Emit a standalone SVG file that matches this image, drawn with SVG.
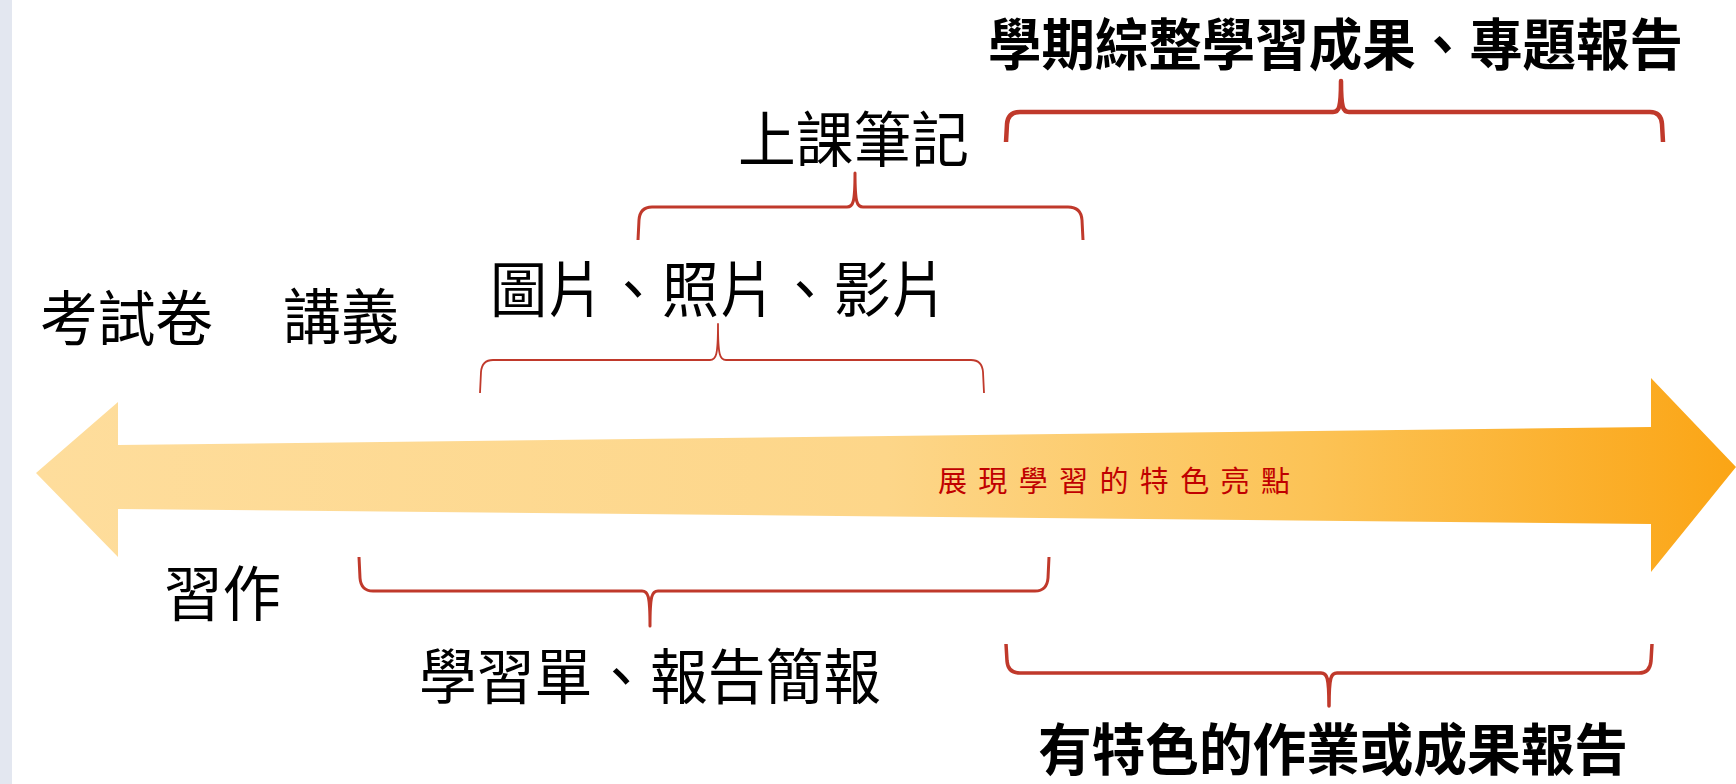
<svg xmlns="http://www.w3.org/2000/svg" width="1736" height="784" viewBox="0 0 1736 784">
  <defs>
    <linearGradient id="arrowGrad" x1="36" y1="0" x2="1736" y2="0" gradientUnits="userSpaceOnUse">
      <stop offset="0" stop-color="#fedd9c"/>
      <stop offset="0.5" stop-color="#fdd689"/>
      <stop offset="0.75" stop-color="#fcc356"/>
      <stop offset="1" stop-color="#fba515"/>
    </linearGradient>
  </defs>
  <style>
    .lbl { font-family: "Noto Sans CJK TC", "Noto Sans CJK SC", sans-serif; font-size: 60px; fill: #000000; }
    .bold { font-family: "Noto Sans CJK TC", "Noto Sans CJK SC", sans-serif; font-size: 56px; font-weight: 700; fill: #000000; }
    .mid { font-family: "Noto Sans CJK TC", "Noto Sans CJK SC", sans-serif; font-size: 29px; fill: #c00000; }
    .brace { fill: none; stroke: #c0392b; stroke-linecap: butt; stroke-linejoin: round; }
  </style>
  <rect x="0" y="0" width="1736" height="784" fill="#ffffff"/>
  <rect x="0" y="0" width="12" height="784" fill="#e3e7f0"/>

  <g id="arrow">
    <polygon points="36,473 118,402 118,445 1651,427 1651,378 1736,467 1651,572 1651,524 118,509 118,557" fill="url(#arrowGrad)"/>
    <text class="mid" x="938" y="492" textLength="352" lengthAdjust="spacing">展現學習的特色亮點</text>
  </g>

  <g id="connectors">
    <path class="brace" stroke-width="4.5" d="M1006,142 L1007,124 Q1008,112 1020,112 L1333,112 C1339,112 1341,108 1341,81 C1341,108 1343,112 1349,112 L1650,112 Q1661,112 1662,124 L1663,142"/>
    <path class="brace" stroke-width="3" d="M638,240 L639,220 Q640,207 652,207 L847,207 C853,207 855,203 855,173 C855,203 857,207 863,207 L1068,207 Q1081,207 1082,220 L1083,240"/>
    <path class="brace" stroke-width="1.8" d="M480,393 L481,372 Q482,360 493,360 L710,360 C716,360 718,356 718,324 C718,356 720,360 726,360 L971,360 Q982,360 983,372 L984,393"/>
    <path class="brace" stroke-width="3" d="M359,557 L360,578 Q361,591 373,591 L642,591 C648,591 650,595 650,626 C650,595 652,591 658,591 L1035,591 Q1047,591 1048,578 L1049,557"/>
    <path class="brace" stroke-width="3.5" d="M1006,644 L1007,661 Q1008,673 1020,673 L1321,673 C1327,673 1329,677 1329,706 C1329,677 1331,673 1337,673 L1639,673 Q1650,673 1651,661 L1652,644"/>
  </g>

  <g id="node-exam"><text class="lbl" x="40" y="341" textLength="173" lengthAdjust="spacingAndGlyphs">考試卷</text></g>
  <g id="node-handout"><text class="lbl" x="283" y="339" textLength="116" lengthAdjust="spacingAndGlyphs">講義</text></g>
  <g id="node-media"><text class="lbl" x="490" y="312" textLength="458" lengthAdjust="spacingAndGlyphs">圖片、照片、影片</text></g>
  <g id="node-notes"><text class="lbl" x="738" y="162" textLength="231" lengthAdjust="spacingAndGlyphs">上課筆記</text></g>
  <g id="node-semester"><text class="bold" x="988" y="65" textLength="695" lengthAdjust="spacingAndGlyphs">學期綜整學習成果、專題報告</text></g>
  <g id="node-workbook"><text class="lbl" x="164" y="616" textLength="117" lengthAdjust="spacingAndGlyphs">習作</text></g>
  <g id="node-worksheet"><text class="lbl" x="419" y="699" textLength="462" lengthAdjust="spacingAndGlyphs">學習單、報告簡報</text></g>
  <g id="node-featured"><text class="bold" x="1038" y="770" textLength="590" lengthAdjust="spacingAndGlyphs">有特色的作業或成果報告</text></g>
</svg>
